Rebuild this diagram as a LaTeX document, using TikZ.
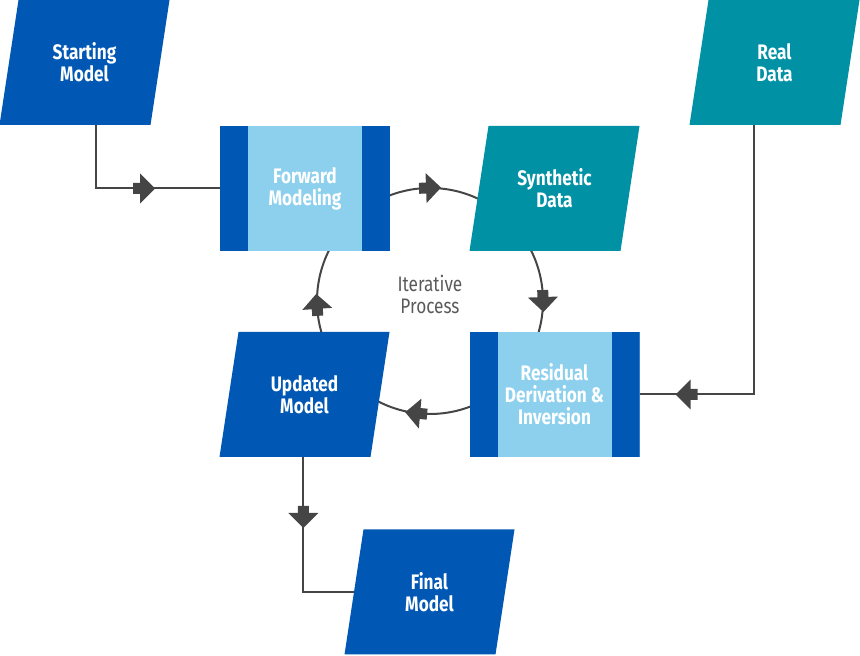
\documentclass[tikz,border=0pt]{standalone}
\usepackage{fontspec}
\setmainfont{Fira Sans}[FakeStretch=0.82]
\usetikzlibrary{positioning,decorations.markings,backgrounds}
\definecolor{darkblue}{HTML}{0058B4}
\definecolor{lightblue}{HTML}{8DD0EE}
\definecolor{tealdata}{HTML}{0091A5}
\definecolor{linegray}{HTML}{454545}
\definecolor{labelgray}{HTML}{5A5A5A}
\newcommand{\dart}{\fill[linegray] (15pt,0pt) -- (0pt,15pt) -- (0pt,5.5pt) -- (-7pt,5.5pt) -- (-7pt,-5.5pt) -- (0pt,-5.5pt) -- (0pt,-15pt) -- cycle;}

\begin{document}
\begin{tikzpicture}[%
	x=1pt,y=1pt,on grid,
	every node/.style={font=\fontsize{21}{22}\selectfont\bfseries,text=white,align=center,inner sep=0pt,outer sep=0pt},
	datanode/.style={rectangle,minimum width=151pt,minimum height=125pt},
	procnode/.style={rectangle,minimum width=170pt,minimum height=125pt,fill=lightblue,
		path picture={\fill[darkblue] (path picture bounding box.south west) rectangle ++(28pt,125pt);
			\fill[darkblue] (path picture bounding box.north east) rectangle ++(-28pt,-125pt);}},
	link/.style={draw=linegray,line width=2pt,
		postaction={decorate,decoration={markings,mark=at position #1 with {\dart}}}},
	link/.default=0.5]

	\useasboundingbox (0,0) rectangle (860,656);

	\node[procnode]	(FWD)	at (305,467.5)	{Forward\\Modeling};
	\node[datanode]	(SYN)	[right=249.5pt of FWD]	{Synthetic\\Data};
	\node[procnode]	(RES)	[below=206pt of SYN]	{Residual\\Derivation \&\\Inversion};
	\node[datanode]	(UM)	[left=250pt of RES]	{Updated\\Model};
	\node[datanode]	(SM)	[above left=126pt and 220.5pt of FWD]	{Starting\\Model};
	\node[datanode]	(RD)	[above right=126pt and 220pt of SYN]	{Real\\Data};
	\node[datanode]	(FM)	[below right=197.5pt and 125pt of UM]	{Final\\Model};

	\node[circle,minimum size=226pt]	(LOOP)	[below right=112.5pt and 125pt of FWD]	{};
	\node[font=\fontsize{21}{22}\selectfont,text=labelgray]	(ITER)	[above=7pt of LOOP]	{Iterative\\Process};

	\path[link=108pt] (SM.-80) |- (FWD.west);
	\path[link=333pt] (RD.-108) |- (RES.east);
	\path[link=56pt] (UM.-91) |- (FM.west);

	\begin{scope}[on background layer]
		\path[link] (LOOP.122) arc[start angle=122,end angle=62,radius=113pt];
		\path[link] (LOOP.32) arc[start angle=32,end angle=-28,radius=113pt];
		\path[link] (LOOP.-65) arc[start angle=-65,end angle=-125,radius=113pt];
		\path[link] (LOOP.216) arc[start angle=216,end angle=152,radius=113pt];
		% slanted data shapes behind the labels
		\foreach \n/\c in {SM/darkblue,UM/darkblue,FM/darkblue,SYN/tealdata,RD/tealdata}
			\fill[\c] ([xshift=9.5pt]\n.north west) -- ([xshift=9.5pt]\n.north east)
				-- ([xshift=-9.5pt]\n.south east) -- ([xshift=-9.5pt]\n.south west) -- cycle;
	\end{scope}

\end{tikzpicture}
\end{document}
